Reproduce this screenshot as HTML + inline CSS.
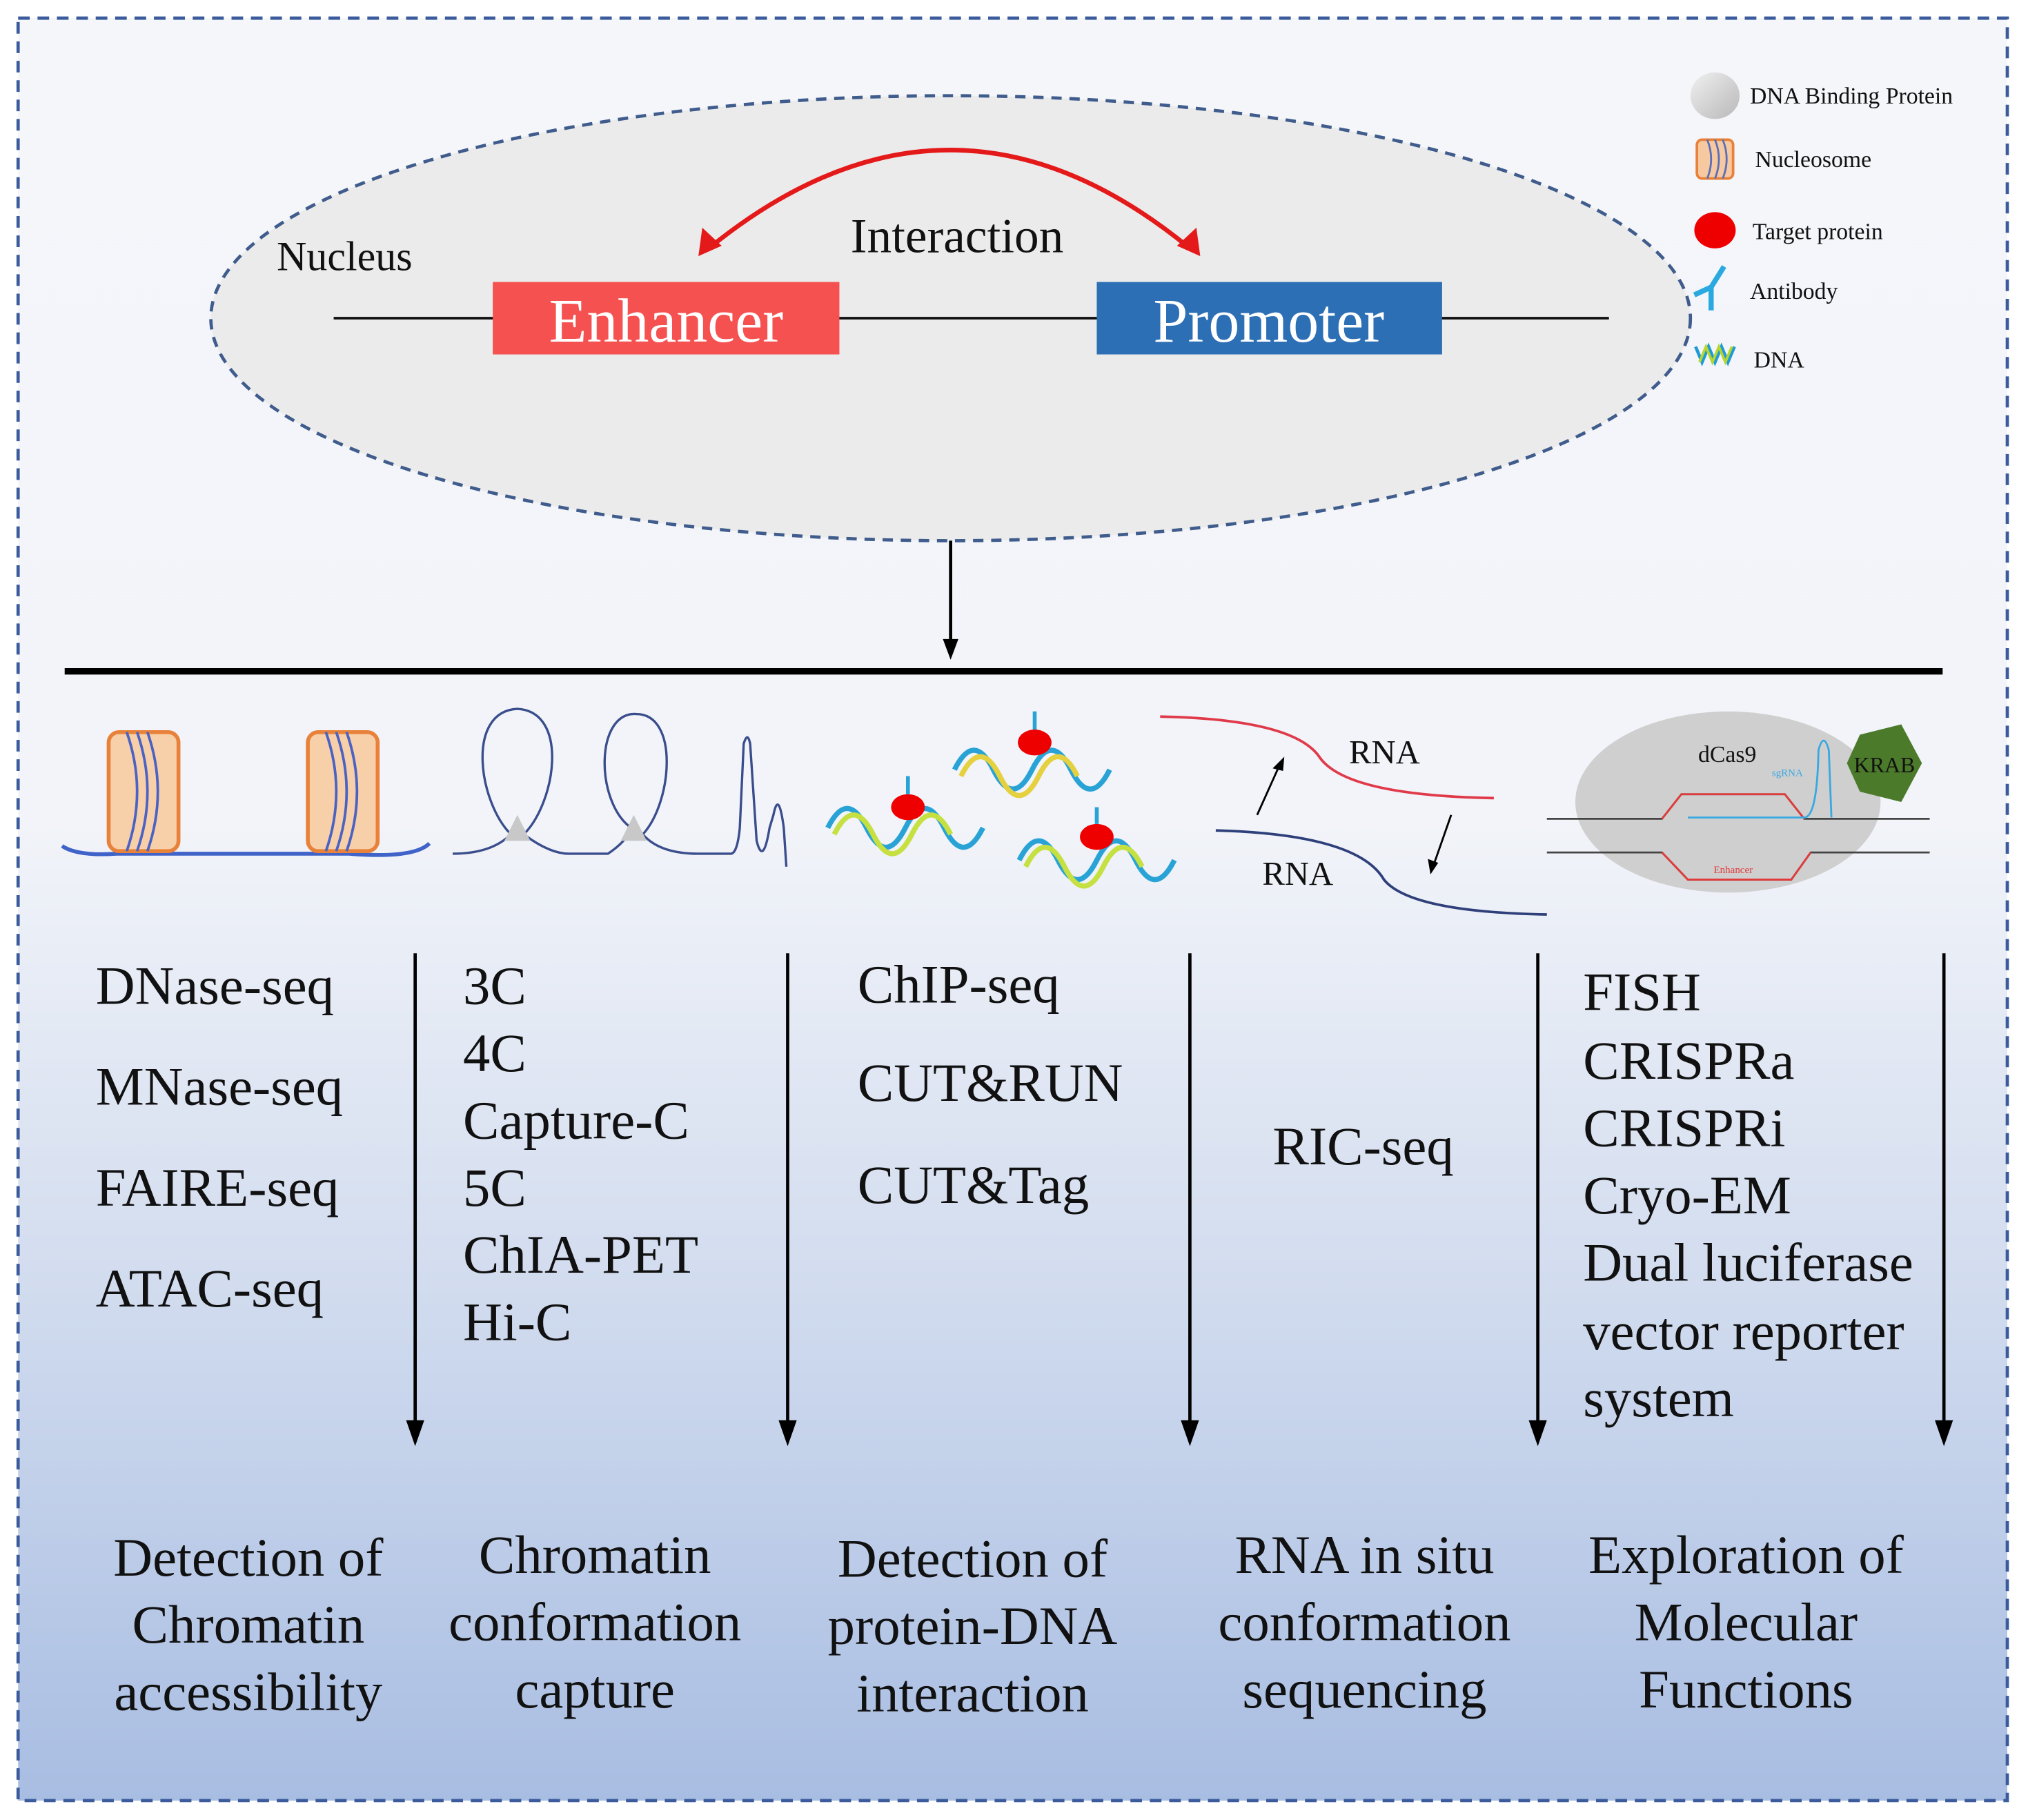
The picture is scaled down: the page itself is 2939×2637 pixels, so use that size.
<!DOCTYPE html>
<html><head><meta charset="utf-8"><style>
html,body{margin:0;padding:0;background:#fff;}
svg{display:block;}
text{font-family:"Liberation Serif",serif;fill:#111;}
</style></head><body>
<svg width="2939" height="2637" viewBox="0 0 1568 1407" preserveAspectRatio="none" xmlns="http://www.w3.org/2000/svg">
<defs>
<linearGradient id="bg" x1="0" y1="0" x2="0" y2="1">
<stop offset="0" stop-color="#f5f6fa"/>
<stop offset="0.45" stop-color="#f2f4f9"/>
<stop offset="0.7" stop-color="#d3ddef"/>
<stop offset="1" stop-color="#a8bde2"/>
</linearGradient>
<marker id="ah" markerWidth="10" markerHeight="10" refX="5" refY="9" orient="auto" markerUnits="userSpaceOnUse"><path d="M0,0 L10,0 L5,10 z" fill="#000"/></marker>
<linearGradient id="gp" x1="0" y1="0" x2="1" y2="1"><stop offset="0" stop-color="#f0f0f0"/><stop offset="1" stop-color="#b8b8b8"/></linearGradient>
</defs>
<rect x="14" y="14" width="1538" height="1378" fill="url(#bg)" stroke="#3b5b9c" stroke-width="2.5" stroke-dasharray="9,6"/>

<!-- nucleus -->
<ellipse cx="735" cy="246" rx="572" ry="172" fill="#ebebeb" stroke="#3f5c8c" stroke-width="2.5" stroke-dasharray="8,6"/>
<text x="214" y="209" font-size="32">Nucleus</text>
<line x1="258" y1="246" x2="1244" y2="246" stroke="#111" stroke-width="2"/>
<rect x="381" y="218" width="268" height="56" fill="#f55151"/>
<text x="515" y="264" font-size="48" text-anchor="middle" style="fill:#fff">Enhancer</text>
<rect x="848" y="218" width="267" height="56" fill="#2d6fb4"/>
<text x="981" y="264" font-size="48" text-anchor="middle" style="fill:#fff">Promoter</text>
<text x="740" y="195" font-size="38" text-anchor="middle">Interaction</text>
<path d="M548,192 Q735,40 920,192" fill="none" stroke="#e41a1a" stroke-width="3.5"/>
<path d="M540,198 L543,176 L558,190 z" fill="#e41a1a"/>
<path d="M928,198 L925,176 L910,190 z" fill="#e41a1a"/>

<!-- legend -->
<ellipse cx="1326" cy="74" rx="19" ry="18" fill="url(#gp)"/>
<text x="1353" y="80" font-size="18">DNA Binding Protein</text>
<rect x="1312" y="108" width="28" height="30" rx="4" fill="#f7c9a0" stroke="#e8823a" stroke-width="2"/>
<path d="M1320,108 q6,15 0,30 M1326,108 q6,15 0,30 M1332,108 q6,15 0,30" stroke="#5a6fb8" fill="none" stroke-width="1.5"/>
<text x="1357" y="129" font-size="18">Nucleosome</text>
<ellipse cx="1326" cy="178" rx="16" ry="14" fill="#ee0000"/>
<text x="1355" y="185" font-size="18">Target protein</text>
<path d="M1323,240 L1323,222 L1333,206 M1323,222 L1310,228" stroke="#2aa9e0" stroke-width="4" fill="none"/>
<text x="1353" y="231" font-size="18">Antibody</text>
<path d="M1311,268 l5,12 l5,-12 l5,12 l5,-12 l5,12 l5,-12" stroke="#1e9ad6" stroke-width="2.5" fill="none"/>
<path d="M1314,280 l5,-12 l5,12 l5,-12 l5,12 l5,-12" stroke="#b8d630" stroke-width="2" fill="none"/>
<text x="1356" y="284" font-size="18">DNA</text>

<!-- arrow down -->
<line x1="735" y1="418" x2="735" y2="498" stroke="#000" stroke-width="2.5"/>
<path d="M729,494 L741,494 L735,510 z" fill="#000"/>
<line x1="50" y1="519" x2="1502" y2="519" stroke="#000" stroke-width="5"/>

<!-- icon 1 nucleosomes -->
<path d="M48,654 Q60,662 90,660 L270,660 Q320,664 332,652" stroke="#3f63c8" stroke-width="3" fill="none"/>
<rect x="84" y="566" width="54" height="92" rx="8" fill="#f7cfa8" stroke="#e8823a" stroke-width="3"/>
<rect x="238" y="566" width="54" height="92" rx="8" fill="#f7cfa8" stroke="#e8823a" stroke-width="3"/>
<path d="M98,566 q16,46 0,92 M106,566 q16,46 0,92 M114,566 q16,46 0,92 M252,566 q16,46 0,92 M260,566 q16,46 0,92 M268,566 q16,46 0,92" stroke="#4a62c4" stroke-width="2" fill="none"/>

<!-- icon 2 loops -->
<path d="M350,660 Q380,660 395,645 C370,620 360,550 400,548 C440,550 430,620 405,645 Q425,660 440,660 L470,660 Q485,650 488,640 C460,620 460,550 492,552 C525,552 520,620 497,645 Q510,660 540,660 L565,660 Q570,660 572,640 L575,575 Q578,565 580,575 L585,650 Q590,670 595,640 L598,630 Q602,610 606,640 L608,670" stroke="#3a4d8c" stroke-width="1.8" fill="none"/>
<path d="M390,650 l10,-20 l10,20 z M480,650 l10,-20 l10,20 z" fill="#c8c8c8"/>

<!-- icon 3 DNA with proteins -->
<g stroke-width="4" fill="none">
<path d="M640,640 q15,-30 30,0 q15,30 30,0 q15,-30 30,0 q15,30 30,0" stroke="#29a3d6"/>
<path d="M645,645 q15,-30 30,0 q15,30 30,0 q15,-30 30,0" stroke="#c5e040"/>
<path d="M738,595 q15,-30 30,0 q15,30 30,0 q15,-30 30,0 q15,30 30,0" stroke="#29a3d6"/>
<path d="M743,600 q15,-30 30,0 q15,30 30,0 q15,-30 30,0" stroke="#e5d040"/>
<path d="M788,665 q15,-30 30,0 q15,30 30,0 q15,-30 30,0 q15,30 30,0" stroke="#29a3d6"/>
<path d="M793,670 q15,-30 30,0 q15,30 30,0 q15,-30 30,0" stroke="#c5e040"/>
</g>
<ellipse cx="702" cy="624" rx="13" ry="10" fill="#ee0000"/>
<ellipse cx="800" cy="574" rx="13" ry="10" fill="#ee0000"/>
<ellipse cx="848" cy="647" rx="13" ry="10" fill="#ee0000"/>
<path d="M702,614 L702,600 M800,564 L800,550 M848,637 L848,624" stroke="#29a3d6" stroke-width="3"/>

<!-- icon 4 RNA -->
<path d="M897,554 Q1000,556 1020,585 Q1040,615 1155,617" stroke="#e03a4a" stroke-width="2" fill="none"/>
<path d="M940,642 Q1050,645 1070,680 Q1090,705 1196,707" stroke="#2e3f7a" stroke-width="2" fill="none"/>
<text x="1043" y="590" font-size="26">RNA</text>
<text x="976" y="684" font-size="26">RNA</text>
<path d="M972,630 L990,590" stroke="#000" stroke-width="1.5"/><path d="M993,585 L984,594 L992,596 z" fill="#000"/>
<path d="M1122,630 L1108,670" stroke="#000" stroke-width="1.5"/><path d="M1106,676 L1104,664 L1112,667 z" fill="#000"/>

<!-- icon 5 dCas9 -->
<ellipse cx="1336" cy="620" rx="118" ry="70" fill="#cfcfcf"/>
<path d="M1196,633 L1285,633 L1300,614 L1380,614 L1395,633 L1492,633 M1196,659 L1285,659 L1305,680 L1385,680 L1400,659 L1492,659" stroke="#444" stroke-width="1.5" fill="none"/>
<path d="M1285,633 L1300,614 L1380,614 L1395,633 M1285,659 L1305,680 L1385,680 L1400,659" stroke="#e23a3a" stroke-width="1.5" fill="none"/>
<path d="M1305,632 L1395,632 Q1405,632 1406,580 Q1410,565 1414,580 L1416,632" stroke="#3aa8e0" stroke-width="1.5" fill="none"/>
<polygon points="1438,568 1470,560 1486,590 1470,620 1438,612 1428,590" fill="#4a7a2a"/>
<text x="1457" y="597" font-size="17" text-anchor="middle">KRAB</text>
<text x="1313" y="589" font-size="18">dCas9</text>
<text x="1370" y="600" font-size="8" style="fill:#3aa8e0">sgRNA</text>
<text x="1325" y="675" font-size="8" style="fill:#e23a3a">Enhancer</text>

<!-- column arrows -->
<g stroke="#000" stroke-width="2.5">
<line x1="321" y1="737" x2="321" y2="1102"/>
<line x1="609" y1="737" x2="609" y2="1102"/>
<line x1="920" y1="737" x2="920" y2="1102"/>
<line x1="1189" y1="737" x2="1189" y2="1102"/>
<line x1="1503" y1="737" x2="1503" y2="1102"/>
</g>
<g fill="#000">
<path d="M314,1098 L328,1098 L321,1118 z"/>
<path d="M602,1098 L616,1098 L609,1118 z"/>
<path d="M913,1098 L927,1098 L920,1118 z"/>
<path d="M1182,1098 L1196,1098 L1189,1118 z"/>
<path d="M1496,1098 L1510,1098 L1503,1118 z"/>
</g>

<g font-size="42">
<text x="74" y="776">DNase-seq</text>
<text x="74" y="854">MNase-seq</text>
<text x="74" y="932">FAIRE-seq</text>
<text x="74" y="1010">ATAC-seq</text>
<text x="358" y="776">3C</text>
<text x="358" y="828">4C</text>
<text x="358" y="880">Capture-C</text>
<text x="358" y="932">5C</text>
<text x="358" y="984">ChIA-PET</text>
<text x="358" y="1036">Hi-C</text>
<text x="663" y="775">ChIP-seq</text>
<text x="663" y="851">CUT&amp;RUN</text>
<text x="663" y="930">CUT&amp;Tag</text>
<text x="984" y="900">RIC-seq</text>
<text x="1224" y="781">FISH</text>
<text x="1224" y="834">CRISPRa</text>
<text x="1224" y="886">CRISPRi</text>
<text x="1224" y="938">Cryo-EM</text>
<text x="1224" y="990">Dual luciferase</text>
<text x="1224" y="1043">vector reporter</text>
<text x="1224" y="1095">system</text>
</g>
<g font-size="42" text-anchor="middle">
<text x="192" y="1218">Detection of</text>
<text x="192" y="1270">Chromatin</text>
<text x="192" y="1322">accessibility</text>
<text x="460" y="1216">Chromatin</text>
<text x="460" y="1268">conformation</text>
<text x="460" y="1320">capture</text>
<text x="752" y="1219">Detection of</text>
<text x="752" y="1271">protein-DNA</text>
<text x="752" y="1323">interaction</text>
<text x="1055" y="1216">RNA in situ</text>
<text x="1055" y="1268">conformation</text>
<text x="1055" y="1320">sequencing</text>
<text x="1350" y="1216">Exploration of</text>
<text x="1350" y="1268">Molecular</text>
<text x="1350" y="1320">Functions</text>
</g>
</svg>
</body></html>
